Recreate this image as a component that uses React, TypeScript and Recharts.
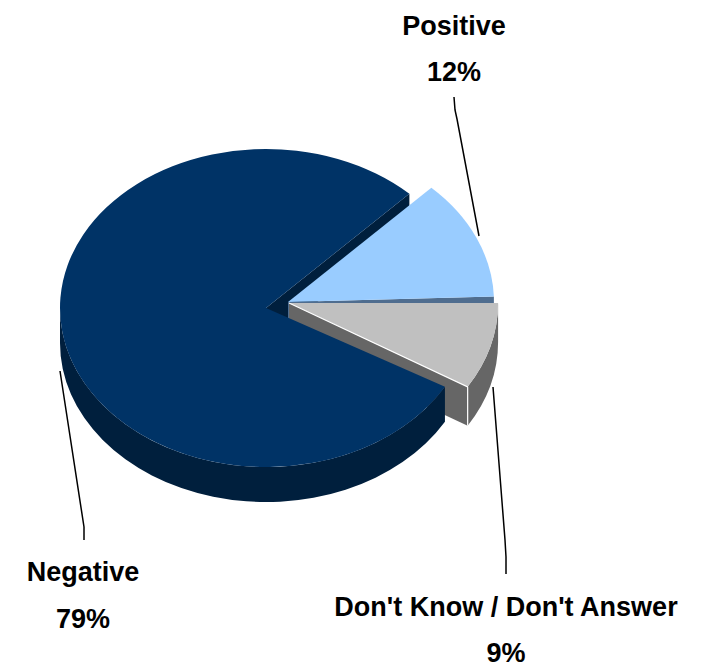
import React from "react";
import { PieChart, Pie } from "recharts";

const categories = ["Positive", "Don't Know / Don't Answer", "Negative"];
const shares = [12.2, 8.8, 79];
const data = categories.map((name, i) => ({ name, value: shares[i] }));

const TILT = 0.772;
const FONT = '"Liberation Sans", Arial, sans-serif';

type Look = {
  top: string; wall: string; dx: number; dy: number; scale: number; depth: number;
  startNudge: number; endNudge: number;
};
const looks: Record<string, Look> = {
  Positive: { top: "#99CCFF", wall: "#4F6D8F", dx: 22, dy: -6, scale: 1, depth: 30, startNudge: 0, endNudge: 0 },
  "Don't Know / Don't Answer": { top: "#C0C0C0", wall: "#666666", dx: 23, dy: -5, scale: 1.015, depth: 39, startNudge: -2, endNudge: -1.6 },
  Negative: { top: "#003366", wall: "#001F3D", dx: 0, dy: 0, scale: 1, depth: 35, startNudge: 0, endNudge: 0 },
};

const labelInfo: Record<string, { x: number; y1: number; y2: number; line: string }> = {
  Positive: { x: 454, y1: 35, y2: 81, line: "454,97 455,110 457,119 479,236" },
  "Don't Know / Don't Answer": { x: 506, y1: 616, y2: 662, line: "493,387 505,540 506,557 506,574" },
  Negative: { x: 83, y1: 581, y2: 628, line: "60,371 84,527 84,540" },
};

function geom(p: any) {
  const look = looks[p.name];
  const cx = p.cx + look.dx;
  const cy = p.cy + look.dy;
  const rx = p.outerRadius * look.scale;
  const ry = rx * TILT;
  const a = p.startAngle + look.startNudge;
  const b = p.endAngle + look.endNudge;
  const at = (deg: number, drop = 0) => {
    const t = (deg * Math.PI) / 180;
    return `${cx + rx * Math.cos(t)} ${cy - ry * Math.sin(t) + drop}`;
  };
  const arc = (to: number, large: boolean, sweep: number) =>
    `A ${rx} ${ry} 0 ${large ? 1 : 0} ${sweep} ${to}`;
  return { look, cx, cy, rx, ry, a, b, at, arc };
}

function topPath(p: any) {
  const { cx, cy, a, b, at, rx, ry } = geom(p);
  const large = Math.abs(a - b) > 180 ? 1 : 0;
  return `M ${cx} ${cy} L ${at(a)} A ${rx} ${ry} 0 ${large} 1 ${at(b)} Z`;
}

function cutWall(p: any, deg: number) {
  const { cx, cy, at, look } = geom(p);
  return `M ${cx} ${cy} L ${at(deg)} L ${at(deg, look.depth)} L ${cx} ${cy + look.depth} Z`;
}

function frontWall(p: any) {
  const { a, b, at, rx, ry, look } = geom(p);
  const s = Math.min(a, 0);
  const e = Math.max(b, -180);
  if (s <= e) return "";
  const large = s - e > 180 ? 1 : 0;
  return `M ${at(s)} A ${rx} ${ry} 0 ${large} 1 ${at(e)} L ${at(e, look.depth)} A ${rx} ${ry} 0 ${large} 0 ${at(s, look.depth)} Z`;
}

function BackCut(p: any) {
  if (p.name !== "Negative") return <g />;
  const { b, look } = geom(p);
  return <path d={cutWall(p, b)} fill={look.wall} />;
}

function MiddleLayer(p: any) {
  const { look, b, at, cx, cy } = geom(p);
  if (p.name === "Positive") {
    return (
      <g>
        <path d={cutWall(p, b)} fill={look.wall} />
        <path d={topPath(p)} fill={look.top} />
      </g>
    );
  }
  if (p.name === "Negative") return <g />;
  return (
    <g>
      <path d={cutWall(p, b)} fill={look.wall} />
      <path d={frontWall(p)} fill={look.wall} />
    </g>
  );
}

function TopLayer(p: any) {
  if (p.name === "Positive") return <g />;
  const { look, b, at, cx, cy } = geom(p);
  if (p.name === "Negative") {
    return (
      <g>
        <path d={frontWall(p)} fill={look.wall} />
        <path d={topPath(p)} fill={look.top} />
      </g>
    );
  }
  return (
    <g>
      <path d={topPath(p)} fill={look.top} />
      <path d={`M ${cx} ${cy} L ${at(b)} L ${at(b, look.depth)}`} fill="none" stroke="#FFFFFF" strokeWidth={1.2} />
    </g>
  );
}

function renderLabel(p: any) {
  const info = labelInfo[p.name];
  const text = { textAnchor: "middle" as const, fontFamily: FONT, fontWeight: 700, fontSize: 27, fill: "#000000" };
  return (
    <g>
      <polyline points={info.line} fill="none" stroke="#000000" strokeWidth={1.5} />
      <text x={info.x} y={info.y1} {...text}>{p.name}</text>
      <text x={info.x} y={info.y2} {...text}>{`${Math.round(p.value)}%`}</text>
    </g>
  );
}

const pieProps = {
  data,
  dataKey: "value",
  nameKey: "name",
  cx: 266,
  cy: 308,
  innerRadius: 0,
  outerRadius: 206,
  startAngle: 45.9,
  endAngle: -314.1,
  stroke: "none",
  isAnimationActive: false,
  labelLine: false,
};

export default function App() {
  return (
    <div style={{ position: "absolute", left: 0, top: 0, width: 702, height: 665 }}>
      <PieChart width={702} height={665} margin={{ top: 0, right: 0, bottom: 0, left: 0 }}>
        <Pie {...pieProps} shape={BackCut} />
        <Pie {...pieProps} shape={MiddleLayer} />
        <Pie {...pieProps} shape={TopLayer} label={renderLabel} />
      </PieChart>
    </div>
  );
}
